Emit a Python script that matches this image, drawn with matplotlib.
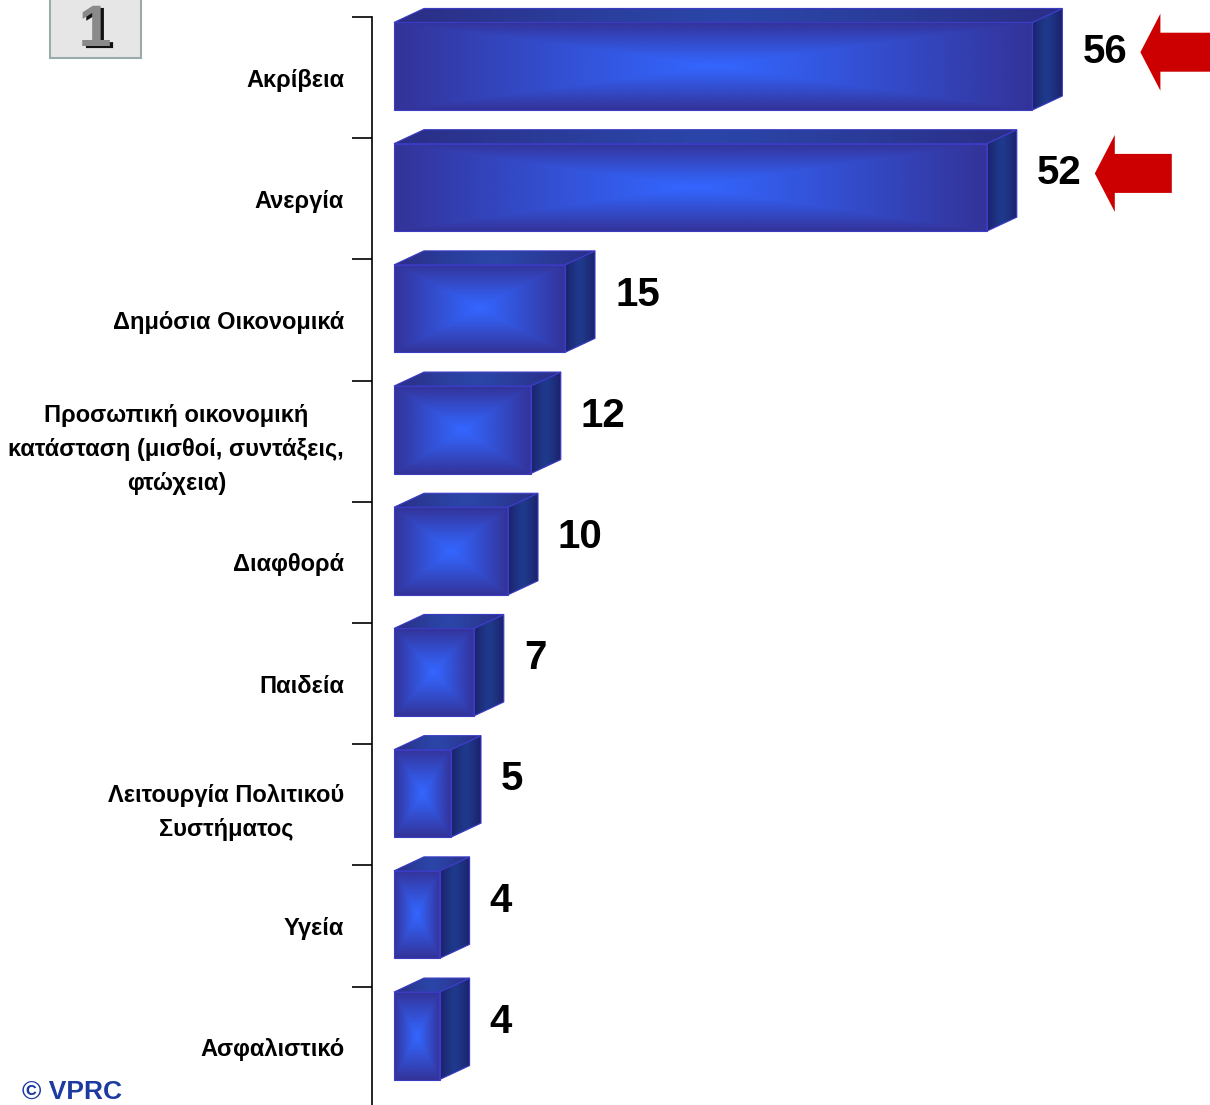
import numpy as np
import matplotlib
matplotlib.use('Agg')
import matplotlib.pyplot as plt
import matplotlib.patheffects as pe
from matplotlib.patches import Polygon, Rectangle
from matplotlib.transforms import IdentityTransform
from matplotlib.ticker import FixedLocator

# data
categories = ['Ακρίβεια', 'Ανεργία', 'Δημόσια Οικονομικά',
              'Προσωπική οικονομική\nκατάσταση (μισθοί, συντάξεις,\nφτώχεια)',
              'Διαφθορά', 'Παιδεία', 'Λειτουργία Πολιτικού\nΣυστήματος',
              'Υγεία', 'Ασφαλιστικό']
values = [56, 52, 15, 12, 10, 7, 5, 4, 4]
arrow_rows = [0, 1]

W, H = 1210, 1105
FONT = ['Liberation Sans', 'DejaVu Sans']

fig = plt.figure(figsize=(W / 100, H / 100), dpi=100)
ax = fig.add_axes([372 / W, 0, 1 - 372 / W, 1])

px_x = 11.4      # pixels per value unit
px_y = 121.2     # pixels per category band
ax.set_xlim(-22 / px_x, -22 / px_x + (W - 372) / px_x)
y_top = -0.5 - 17 / px_y
ax.set_ylim(y_top + H / px_y, y_top)

dx = 30 / px_x           # 3d depth
dy = 14 / px_y
face_top, face_bot = -0.455, 0.267

edge_c = np.array([0x33, 0x33, 0x99]) / 255
mid_c = np.array([0x33, 0x66, 0xff]) / 255
side_edge = np.array([0x1b, 0x22, 0x6c]) / 255
side_mid = np.array([0x1f, 0x3a, 0x8c]) / 255
top_edge = np.array([0x2a, 0x2e, 0x86]) / 255
top_mid = np.array([0x2b, 0x46, 0xa8]) / 255


def blend(a, b, s):
    return a[None, None, :] * (1 - s[..., None]) + b[None, None, :] * s[..., None]


for i, v in enumerate(values):
    y0, y1 = i + face_top, i + face_bot
    # front face, box gradient
    U, V = np.meshgrid(np.linspace(-1, 1, 200), np.linspace(-1, 1, 100))
    s = np.maximum(np.abs(U), np.abs(V)) ** 1.1
    ax.imshow(blend(mid_c, edge_c, s), extent=(0, v, y1, y0), aspect='auto',
              interpolation='bilinear', zorder=2)
    ax.add_patch(Rectangle((0, y0), v, y1 - y0, fill=False, ec='#3b3bc4', lw=0.8, zorder=3))

    # side face
    side = Polygon([(v, y0), (v + dx, y0 - dy), (v + dx, y1 - dy), (v, y1)],
                   closed=True, fc='none', ec='#3b3bc4', lw=0.8, zorder=3)
    ax.add_patch(side)
    U2, _ = np.meshgrid(np.linspace(-1, 1, 50), np.linspace(0, 1, 50))
    im = ax.imshow(blend(side_mid, side_edge, np.abs(U2) ** 1.3),
                   extent=(v, v + dx, y1, y0 - dy), aspect='auto',
                   interpolation='bilinear', zorder=2)
    im.set_clip_path(side)

    # top face
    top = Polygon([(0, y0), (dx, y0 - dy), (v + dx, y0 - dy), (v, y0)],
                  closed=True, fc='none', ec='#3b3bc4', lw=0.8, zorder=3)
    ax.add_patch(top)
    U3, _ = np.meshgrid(np.linspace(-1, 1, 200), np.linspace(0, 1, 10))
    im = ax.imshow(blend(top_mid, top_edge, np.abs(U3) ** 1.2),
                   extent=(0, v + dx, y0, y0 - dy), aspect='auto',
                   interpolation='bilinear', zorder=2)
    im.set_clip_path(top)

    # value label
    ax.text(v + dx + 20 / px_x, i - 0.21, str(v), ha='left', va='center',
            fontsize=29, fontweight='bold', family=FONT, color='black')

# red arrows next to the two biggest values
fig.canvas.draw()
for i in arrow_rows:
    tx, ty = ax.transData.transform((values[i] + dx + 78 / px_x, i - 0.094))
    ty += 14
    pts = np.array([(0, 0), (20, 38.5), (20, 19.5), (77, 19.5),
                    (77, -19.5), (20, -19.5), (20, -38.5)]) + [tx, ty]
    ax.add_patch(Polygon(pts, closed=True, fc='#cc0000', ec='none',
                         transform=IdentityTransform(), zorder=4))

# axis: only the left line with ticks between the categories
for side_name in ['top', 'right', 'bottom']:
    ax.spines[side_name].set_visible(False)
ax.spines['left'].set_bounds(-0.5, y_top + H / px_y)
ax.spines['left'].set_linewidth(1.2)
ax.set_xticks([])
ax.set_yticks(range(len(categories)))
ax.set_yticklabels(categories, fontsize=17, fontweight='bold', family=FONT,
                   linespacing=1.62)
for lbl in ax.get_yticklabels():
    lbl.set_multialignment('center')
ax.yaxis.set_minor_locator(FixedLocator(np.arange(-0.5, len(categories) - 1, 1.0)))
ax.tick_params(axis='y', which='major', length=0, pad=20)
ax.tick_params(axis='y', which='minor', length=14.5, width=1.2, direction='out')
ax.patch.set_alpha(0)

# slide number box and copyright
fig.patches.append(Rectangle((50 / W, 1 - 58 / H), 91 / W, 0.1, transform=fig.transFigure,
                             fc='#e6e6e6', ec='#9aabab', lw=1.5))
fig.text(95 / W, 1 - 46 / H, '1', ha='center', va='baseline', fontsize=42,
         fontweight='bold', family=FONT, color='#8a8a8a',
         path_effects=[pe.withSimplePatchShadow(offset=(2.5, -1.5), shadow_rgbFace='#111111', alpha=1.0),
                       pe.Normal()])
fig.text(22 / W, 1 - 1099 / H, '© VPRC', ha='left', va='baseline', fontsize=19,
         fontweight='bold', family=FONT, color='#1c3aa0')

fig.savefig('out.png', dpi=100)
